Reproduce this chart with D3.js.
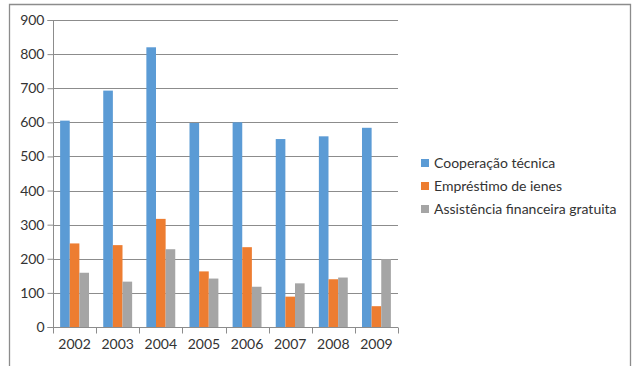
<!DOCTYPE html>
<html><head><meta charset="utf-8">
<script src="https://cdn.jsdelivr.net/npm/d3@7"></script>
<style>body{margin:0;background:#fff;}svg{display:block;}</style>
</head><body>
<svg id="c" width="633" height="366"></svg>
<script>
const years = ["2002","2003","2004","2005","2006","2007","2008","2009"];
const seriesNames = ["Cooperação técnica","Empréstimo de ienes","Assistência financeira gratuita"];
const cooperacao = [605, 693, 820, 598, 600, 551, 559, 584];
const emprestimo = [245, 240, 317, 163, 234, 89, 140, 61];
const assistencia = [159, 133, 228, 142, 118, 128, 145, 199];
const yTicks = [0,100,200,300,400,500,600,700,800,900];
const colors = ["#5b9bd5","#ed7d31","#a5a5a5"];

const series = [cooperacao, emprestimo, assistencia];
const svg = d3.select("#c");
const font = "Lato, 'Open Sans', sans-serif";
const textColor = "#333333";

// outer frame (no bottom edge)
svg.append("path").attr("d","M9.5,366 V4.5 H630.5 V366")
  .attr("fill","none").attr("stroke","#8c8c8c").attr("stroke-width",1.3);

const m = {left:53, right:398, top:20, bottom:327};
const x = d3.scaleBand().domain(years).range([m.left, m.right]).paddingInner(0.33).paddingOuter(0.165);
const xs = d3.scaleBand().domain(d3.range(3)).range([0, x.bandwidth()]);
const y = d3.scaleLinear().domain([0,900]).range([m.bottom, m.top]);

// gridlines
svg.append("g").selectAll("line").data(yTicks.filter(d=>d>0)).join("line")
  .attr("x1", m.left).attr("x2", m.right)
  .attr("y1", d=>Math.round(y(d))+0.5).attr("y2", d=>Math.round(y(d))+0.5)
  .attr("stroke","#8c8c8c").attr("stroke-width",1);

// bars
const g = svg.append("g");
series.forEach((vals, si) => {
  g.selectAll(null).data(vals).join("rect")
    .attr("x", (d,i)=> x(years[i]) + xs(si))
    .attr("y", d=> y(d))
    .attr("width", xs.bandwidth())
    .attr("height", d=> y(0)-y(d))
    .attr("fill", colors[si]);
});

// y axis
const yAxis = d3.axisLeft(y).tickValues(yTicks).tickSize(6).tickPadding(3).tickFormat(d3.format("d"));
const ya = svg.append("g").attr("transform",`translate(${m.left+0.5},0)`).call(yAxis);
ya.select(".domain").attr("stroke","#8c8c8c").attr("d",`M-6,${m.top}.5H0V${m.bottom}.5H-6`);
ya.selectAll(".tick line").attr("stroke","#8c8c8c");
ya.selectAll("text").attr("font-family",font).attr("font-size",14).attr("fill",textColor);

// x axis
const xAxis = d3.axisBottom(x).tickSize(0).tickPadding(12);
const xa = svg.append("g").attr("transform",`translate(0,${m.bottom+0.5})`).call(xAxis);
xa.select(".domain").attr("stroke","#8c8c8c").attr("d",`M${m.left},0H${m.right}`);
xa.selectAll("text").attr("font-family",font).attr("font-size",14).attr("fill",textColor);
// category boundary ticks
const step = (m.right-m.left)/years.length;
xa.append("g").selectAll("line").data(d3.range(years.length+1)).join("line")
  .attr("x1", i=>Math.round(m.left + i*step)+0.5).attr("x2", i=>Math.round(m.left + i*step)+0.5)
  .attr("y1",0).attr("y2",6).attr("stroke","#8c8c8c");

// legend
const lg = svg.append("g").attr("transform","translate(421,159)");
seriesNames.forEach((n,i)=>{
  const row = lg.append("g").attr("transform",`translate(0,${i*23})`);
  row.append("rect").attr("width",8).attr("height",8).attr("y",0).attr("fill",colors[i]);
  row.append("text").attr("x",13).attr("y",9).attr("font-family",font).attr("font-size",14)
    .attr("fill",textColor).text(n);
});
</script>
</body></html>
